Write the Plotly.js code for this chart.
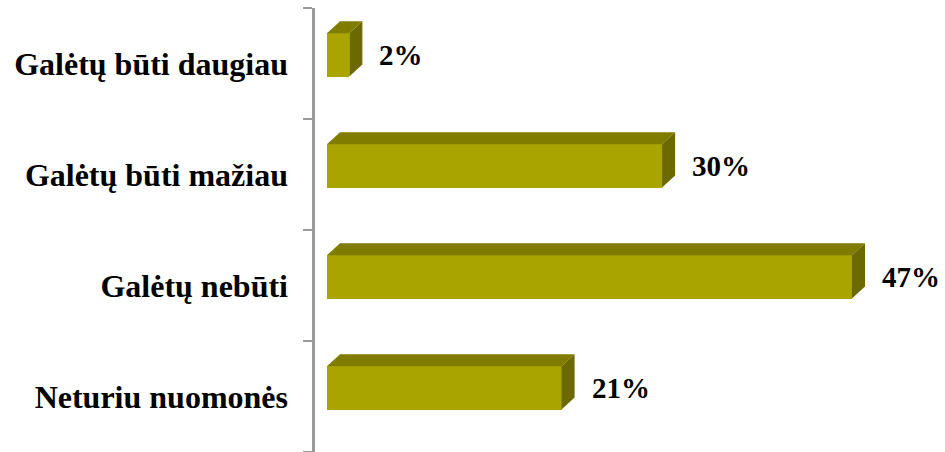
<!DOCTYPE html>
<html>
<head>
<meta charset="utf-8">
<script src="https://cdn.plot.ly/plotly-3.0.1.min.js"></script>
<style>
  html, body { margin: 0; padding: 0; background: #fff; }
  #chart { width: 945px; height: 452px; }
</style>
</head>
<body>
<div id="chart"></div>
<script>
// answers, top to bottom, and their share in percent
var categories = ["Galėtų būti daugiau", "Galėtų būti mažiau", "Galėtų nebūti", "Neturiu nuomonės"];
var values = [2, 30, 47, 21];
var valueLabels = ["2%", "30%", "47%", "21%"];

// 3d look: bar thickness, how far the bar sits above the band centre, and the depth offset
var barWidth = 0.39;
var lift = 0.077;
var depthX = 1.17;   // in percent units
var depthY = 0.108;  // in category units

var serif = 'Liberation Serif';

var idx = categories.map(function(c, i) { return i; });
var centres = idx.map(function(i) { return i - lift; });

// top and side faces as polygons, separated by nulls
var topX = [], topY = [], sideX = [], sideY = [];
values.forEach(function(v, i) {
  var yTop = centres[i] - barWidth / 2;
  var yBot = centres[i] + barWidth / 2;
  topX.push(0, v, v + depthX, depthX, 0, null);
  topY.push(yTop, yTop, yTop - depthY, yTop - depthY, yTop, null);
  sideX.push(v, v + depthX, v + depthX, v, v, null);
  sideY.push(yTop, yTop - depthY, yBot - depthY, yBot, yTop, null);
});

var frontFace = {
  type: 'bar',
  orientation: 'h',
  x: values,
  y: centres,
  base: 0,
  width: barWidth,
  marker: { color: '#aaa400', line: { width: 0 } },
  hoverinfo: 'skip'
};

var topFace = {
  type: 'scatter',
  mode: 'lines',
  x: topX,
  y: topY,
  fill: 'toself',
  fillcolor: '#807c00',
  line: { width: 0, color: '#807c00' },
  hoverinfo: 'skip'
};

var sideFace = {
  type: 'scatter',
  mode: 'lines',
  x: sideX,
  y: sideY,
  fill: 'toself',
  fillcolor: '#6c6900',
  line: { width: 0, color: '#6c6900' },
  hoverinfo: 'skip'
};

// empty trace so the tick axis is drawn
var tickHolder = { type: 'scatter', x: [null], y: [null], yaxis: 'y2', hoverinfo: 'skip' };

// value labels next to the bars
var annotations = values.map(function(v, i) {
  return {
    x: v,
    y: centres[i],
    xref: 'x',
    yref: 'y',
    text: valueLabels[i],
    showarrow: false,
    xanchor: 'left',
    yanchor: 'middle',
    xshift: 28,
    font: { family: serif, size: 29, weight: 'bold', color: '#000' }
  };
});

var boundaries = [-0.5, 0.5, 1.5, 2.5, 3.5];

var layout = {
  width: 945,
  height: 452,
  margin: { l: 315, r: 0, t: 8, b: 0 },
  paper_bgcolor: '#fff',
  plot_bgcolor: '#fff',
  showlegend: false,
  xaxis: {
    range: [-1.07, 55.33],
    visible: false,
    fixedrange: true
  },
  yaxis: {
    range: [3.5, -0.5],
    tickvals: idx,
    ticktext: categories,
    ticks: '',
    showgrid: false,
    zeroline: false,
    showline: false,
    ticklabelstandoff: 26,
    tickfont: { family: serif, size: 32, weight: 'bold', color: '#000' },
    fixedrange: true
  },
  yaxis2: {
    overlaying: 'y',
    side: 'left',
    range: [3.5, -0.5],
    tickvals: boundaries,
    showticklabels: false,
    ticks: 'outside',
    ticklen: 9,
    tickwidth: 2,
    tickcolor: '#9a9a9a',
    showline: true,
    linecolor: '#9a9a9a',
    linewidth: 3,
    showgrid: false,
    zeroline: false,
    fixedrange: true
  },
  annotations: annotations,
  bargap: 0
};

Plotly.newPlot('chart', [topFace, sideFace, frontFace, tickHolder], layout, { displayModeBar: false, staticPlot: true });
</script>
</body>
</html>
